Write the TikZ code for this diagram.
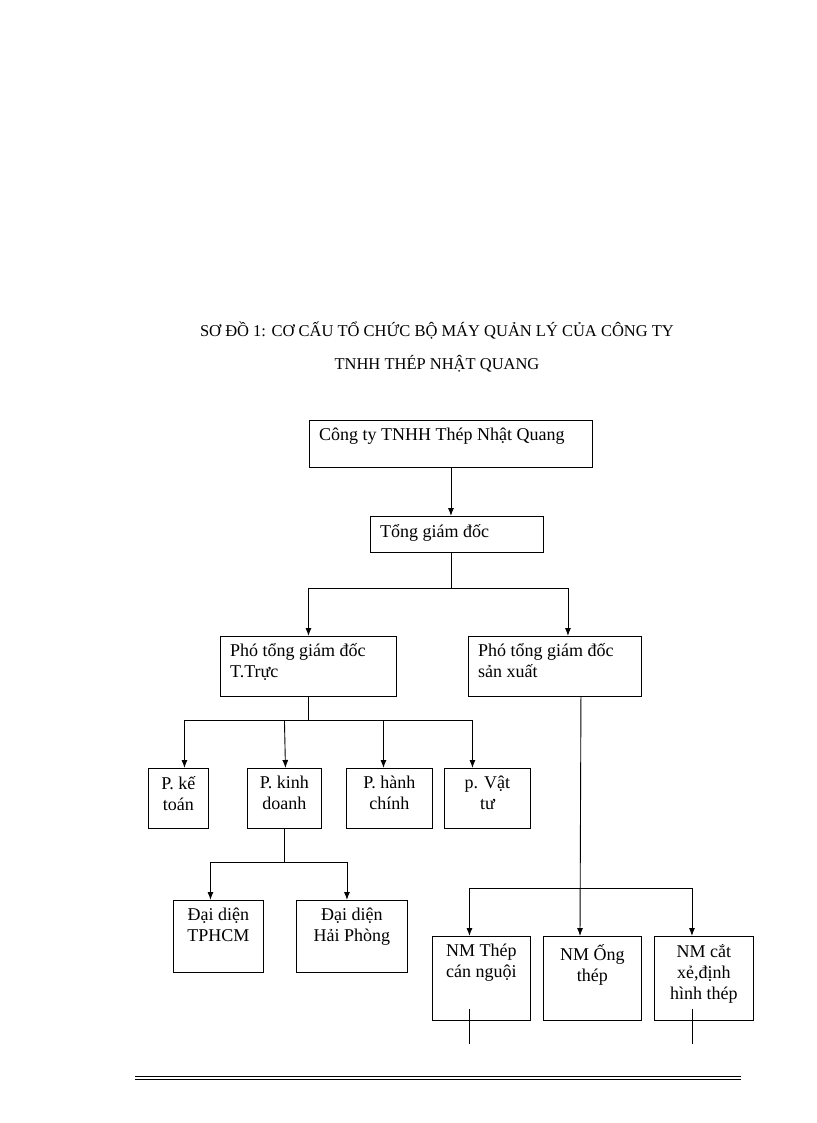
\documentclass[tikz,border=0pt]{standalone}
\usepackage{fontspec}
\setmainfont{Liberation Serif}
\usetikzlibrary{calc,arrows.meta}
\tikzset{
  box/.style={draw,line width=0.9pt,anchor=north west,inner sep=0pt},
  lbl/.style={font=\fontsize{18}{21}\selectfont,inner sep=0pt},
  conn/.style={line width=0.9pt},
  arr/.style={line width=0.9pt,-{Latex[length=8pt,width=6pt]}}
}
% box: name, corner x, y, width, height
\newcommand{\orgbox}[5]{%
  \node[box,minimum width=#4pt,minimum height=#5pt] (#1) at (#2,#3) {};
}
\begin{document}
\begin{tikzpicture}[x=1pt,y=-1pt]
\useasboundingbox (0,0) rectangle (816,1123);

% Title
\node[font=\fontsize{16.5}{19}\selectfont] (t1) at (437,331) {SƠ ĐỒ 1: CƠ CẤU TỔ CHỨC BỘ MÁY QUẢN LÝ CỦA CÔNG TY};
\node[font=\fontsize{16.5}{19}\selectfont] (t2) at (437,364) {TNHH THÉP NHẬT QUANG};

% Boxes
\orgbox{cty}{309}{420}{283}{47}
\orgbox{tgd}{370}{516}{173}{36}
\orgbox{ptt}{220}{636}{176}{60}
\orgbox{psx}{468}{636}{173}{60}
\orgbox{pkt}{148}{768}{60}{60}
\orgbox{pkd}{247}{768}{74}{60}
\orgbox{phc}{346}{768}{86}{60}
\orgbox{pvt}{444}{768}{86}{60}
\orgbox{dhcm}{173}{900}{90}{72}
\orgbox{dhp}{296}{900}{111}{72}
\orgbox{nmc}{432}{936}{98}{84}
\orgbox{nmo}{543}{936}{98}{84}
\orgbox{nmx}{654}{936}{99}{84}

% Texts
\node[lbl,anchor=north west] at ($(cty.north west)+(10,8)$) {Công ty TNHH Thép Nhật Quang};
\node[lbl,anchor=north west] at ($(tgd.north west)+(10,8)$) {Tổng giám đốc};
\node[lbl,anchor=north west,align=left] at ($(ptt.north west)+(10,7)$) {Phó tổng giám đốc\\T.Trực};
\node[lbl,anchor=north west,align=left] at ($(psx.north west)+(10,7)$) {Phó tổng giám đốc\\sản xuất};
\node[lbl,anchor=north,align=center] at ($(pkt.north)+(0,8)$) {P. kế\\toán};
\node[lbl,anchor=north,align=center] at ($(pkd.north)+(0,8)$) {P. kinh\\doanh};
\node[lbl,anchor=north,align=center] at ($(phc.north)+(0,8)$) {P. hành\\chính};
\node[lbl,anchor=north,align=center] at ($(pvt.north)+(0,8)$) {p. Vật\\tư};
\node[lbl,anchor=north,align=center] at ($(dhcm.north)+(0,8)$) {Đại diện\\TPHCM};
\node[lbl,anchor=north,align=center] at ($(dhp.north)+(0,8)$) {Đại diện\\Hải Phòng};
\node[lbl,anchor=north,align=center] at ($(nmc.north)+(0,8)$) {NM Thép\\cán nguội};
\node[lbl,anchor=north,align=center] at ($(nmo.north)+(0,8)$) {NM Ống\\thép};
\node[lbl,anchor=north,align=center] at ($(nmx.north)+(0,8)$) {NM cắt\\xẻ,định\\hình thép};

% Connectors
\draw[arr] (cty.south) -- (tgd.north -| cty.south);
\draw[conn] (tgd.south -| cty.south) -- ++(0,36) coordinate (j1);
\draw[arr] (j1) -| (ptt.north);
\draw[arr] (j1) -| ($(psx.north)+(13,0)$);

\draw[conn] (ptt.south) -- ++(0,24) coordinate (j2);
\draw[arr] (j2) -| ($(pkt.north)+(6,0)$);
\draw[arr] (j2) -| ($(pvt.north)+(-15,0)$);
\draw[arr] (j2 -| pkd.north) -- ($(pkd.north)+(1,0)$);
\draw[arr] ($(j2 -| phc.north)+(-6,0)$) -- ($(phc.north)+(-6,0)$);

\draw[conn] (pkd.south) -- ++(0,34) coordinate (j3);
\draw[arr] (j3) -| ($(dhcm.north)+(-8,0)$);
\draw[arr] (j3) -| ($(dhp.north)+(-5,0)$);

\draw[arr] ($(psx.south)+(26,0)$) -- (nmo.north -| 580,0);
\draw[arr] (580,888) coordinate (j4) -| ($(nmc.north)+(-12,0)$);
\draw[arr] (j4) -| ($(nmx.north)+(-12,0)$);

\coordinate (e1) at ($(nmc.south)+(-12,-12)$);
\coordinate (e2) at ($(nmx.south)+(-12,-12)$);
\draw[conn] (e1) -- ++(0,35);
\draw[conn] (e2) -- ++(0,35);

% Footer rule
\coordinate (fl) at (135,1076);
\coordinate (fr) at (741,1076);
\draw[line width=1pt] (fl) -- (fr);
\draw[line width=0.6pt] ($(fl)+(0,3.5)$) -- ($(fr)+(0,3.5)$);
\end{tikzpicture}
\end{document}
